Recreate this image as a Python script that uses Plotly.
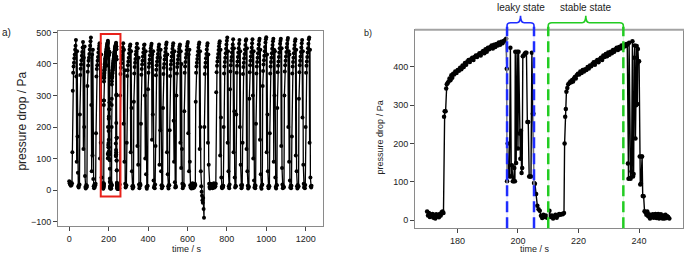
import plotly.graph_objects as go

# ---------------- data: panel a) full run (2 s samples, listed per cycle) ----------------
sample_step_s = 2
cycle_start_s = [0, 14, 52, 90, 134, 252, 290, 326, 362, 398, 436, 474, 508, 542, 582,
                 640, 682, 744, 782, 814, 846, 878, 912, 946, 980, 1016, 1054, 1090,
                 1128, 1164, 1198]
cycle_pa = [
    [28, 22, 18, 25, 14, 20, 16],
    [22, 120, 315, 372, 392, 404, 418, 430, 445, 458, 476, 360, 90, 440, 170, 55, 12, 8, 15],
    [18, 240, 365, 385, 398, 412, 426, 438, 452, 470, 130, 420, 200, 455, 45, 10, 5, 16, 9],
    [14, 330, 375, 395, 410, 420, 432, 446, 458, 472, 484, 270, 60, 430, 110, 445, 35, 12, 6, 18, 10, 15],
    [20, 180, 360, 384, 396, 410, 422, 436, 448, 458, 466, 100, 400, 150, 430, 40, 14, 8],
    [12, 6, 18, 300, 368, 388, 402, 416, 428, 440, 452, 466, 210, 445, 90, 380, 20, 8, 12],
    [15, 150, 362, 380, 396, 408, 420, 434, 446, 456, 462, 120, 440, 260, 60, 12, 5, 14],
    [10, 280, 370, 390, 404, 416, 430, 440, 452, 464, 140, 450, 80, 420, 18, 6, 12, 20],
    [16, 210, 366, 384, 398, 410, 424, 436, 448, 460, 462, 300, 100, 440, 50, 10, 4, 12],
    [14, 320, 372, 390, 402, 414, 428, 440, 450, 458, 464, 160, 430, 240, 440, 30, 8, 14, 6],
    [18, 140, 364, 382, 396, 408, 420, 432, 444, 454, 462, 80, 420, 190, 445, 60, 15, 6, 12],
    [12, 260, 368, 388, 400, 414, 426, 438, 450, 462, 468, 120, 430, 50, 12, 5, 16],
    [15, 190, 362, 384, 398, 410, 424, 436, 448, 458, 466, 220, 90, 440, 25, 8, 14],
    [10, 300, 370, 390, 402, 414, 426, 438, 448, 456, 462, 150, 440, 70, 400, 130, 20, 6, 12, 18],
    [14, 250, 372, 392, 406, 420, 432, 444, 456, 464, 470, 180, 430, 60, 445, 90, 15, 8, 12, 5,
     16, 10, 22, 6, 14, 18, 8, 12, 20],
    [16, 280, 372, 392, 404, 416, 428, 440, 452, 462, 468, 130, 440, 200, 60, 12, -5, -18, -32, -40, -25],
    [-60, -88, 200, 368, 390, 404, 418, 432, 446, 458, 466, 150, 430, 80, 20, 10, 5, 14, 20, 8,
     15, 12, 18, 6, 16, 10, 22, 14, 8, 18, 12],
    [20, 310, 374, 394, 408, 420, 432, 444, 456, 466, 472, 110, 445, 230, 40, 10, 6, 14, 9],
    [14, 200, 370, 392, 406, 420, 434, 448, 462, 474, 484, 150, 440, 60, 12, 6],
    [18, 320, 376, 396, 410, 422, 436, 450, 462, 478, 120, 450, 250, 40, 8, 14],
    [12, 240, 372, 394, 408, 422, 436, 450, 464, 476, 200, 440, 80, 15, 6, 10],
    [16, 150, 368, 390, 404, 418, 432, 446, 460, 474, 478, 130, 450, 60, 14, 5, 12],
    [10, 290, 374, 396, 410, 424, 438, 452, 466, 478, 300, 100, 440, 30, 8, 16, 6],
    [14, 210, 370, 392, 406, 420, 434, 448, 462, 474, 480, 160, 445, 50, 10, 4, 15],
    [18, 330, 378, 398, 412, 426, 440, 454, 468, 478, 485, 120, 430, 240, 60, 12, 6, 14],
    [12, 180, 370, 392, 406, 420, 434, 448, 460, 472, 480, 90, 445, 300, 440, 40, 10, 5, 16],
    [15, 260, 374, 394, 408, 422, 436, 450, 464, 474, 480, 140, 450, 70, 18, 6, 12, 8],
    [10, 300, 376, 396, 410, 424, 438, 452, 464, 476, 482, 200, 440, 90, 430, 30, 8, 14, 6],
    [14, 170, 370, 392, 406, 420, 434, 448, 460, 472, 478, 110, 445, 60, 12, 5, 16, 10],
    [12, 290, 374, 396, 410, 424, 438, 452, 466, 476, 230, 440, 80, 20, 8, 14, 6],
    [16, 200, 372, 394, 408, 422, 436, 450, 464, 478, 484, 150, 445, 40, 12, 8, 14],
]

# ---------------- data: panel b) detail 170-250 s (time s, pressure drop Pa) ----------------
detail_base1 = [(170.0, 22), (170.3, 12), (170.6, 18), (170.9, 8), (171.2, 14), (171.5, 10),
                (171.8, 16), (172.1, 6), (172.4, 12), (172.7, 4), (173.0, 15), (173.3, 9),
                (173.6, 13), (173.9, 7), (174.2, 16), (174.5, 12), (174.8, 20), (175.1, 22),
                (175.4, 18)]
detail_rise1 = [(175.6, 270), (175.8, 284), (176.1, 284), (176.3, 344), (176.5, 355), (176.8, 358),
                (177.1, 362), (177.4, 370), (177.7, 365), (178.0, 378), (178.3, 372), (178.6, 382),
                (178.9, 380), (179.3, 388), (179.7, 384), (180.1, 392), (180.5, 390), (180.9, 398),
                (181.3, 394), (181.7, 404), (182.1, 400), (182.5, 410), (182.9, 406), (183.3, 414),
                (183.7, 418), (184.1, 413), (184.5, 420), (184.9, 424), (185.3, 418), (185.7, 426),
                (186.1, 430), (186.5, 426), (186.9, 432), (187.3, 436), (187.7, 430), (188.1, 438),
                (188.5, 442), (188.9, 436), (189.3, 446), (189.7, 440), (190.1, 450), (190.5, 446),
                (190.9, 452), (191.3, 456), (191.7, 448), (192.1, 458), (192.5, 452), (192.9, 460),
                (193.3, 456), (193.7, 464), (194.1, 458), (194.5, 466), (194.9, 462), (195.3, 468),
                (195.7, 470), (196.1, 474)]
detail_leak1 = [(196.3, 395), (196.4, 101), (196.6, 200), (196.9, 117), (197.2, 114), (197.5, 450),
                (197.8, 114), (198.0, 143), (198.3, 101), (198.6, 101), (198.8, 136), (199.0, 101),
                (199.1, 440), (199.4, 149), (199.7, 440), (200.0, 187), (200.2, 440), (200.5, 226),
                (200.8, 160), (201.0, 233), (201.2, 123), (201.4, 136), (201.6, 428), (201.9, 430),
                (202.2, 434), (202.5, 437), (202.8, 437), (203.1, 256), (203.4, 256), (203.7, 114),
                (204.0, 114), (204.3, 114), (204.6, 437), (204.9, 278), (205.1, 278), (205.3, 97),
                (205.6, 95), (206.0, 68), (206.4, 37), (206.8, 28), (207.2, 24), (207.6, 11)]
detail_base2 = [(208.0, 5), (208.4, 14), (208.8, 8), (209.2, 12), (209.6, 6), (210.0, 10),
                (210.4, 24), (210.8, 8), (211.2, 12), (211.6, 4), (212.0, 10), (212.4, 14),
                (212.8, 6), (213.2, 12), (213.6, 16), (214.0, 14), (214.4, 16), (214.8, 15),
                (215.2, 18)]
detail_rise2 = [(215.4, 200), (215.6, 270), (215.8, 290), (216.0, 335), (216.3, 345), (216.6, 355),
                (217.0, 358), (217.3, 362), (217.6, 360), (217.9, 366), (218.2, 362), (218.5, 370),
                (218.8, 374), (219.1, 370), (219.4, 378), (219.8, 382), (220.2, 380), (220.6, 388),
                (221.0, 384), (221.4, 392), (221.8, 388), (222.2, 394), (222.6, 392), (223.0, 400),
                (223.4, 396), (223.8, 404), (224.2, 402), (224.6, 408), (225.0, 412), (225.4, 406),
                (225.8, 414), (226.2, 418), (226.6, 412), (227.0, 420), (227.4, 424), (227.8, 418),
                (228.2, 430), (228.6, 426), (229.0, 434), (229.4, 428), (229.8, 438), (230.2, 432),
                (230.6, 440), (231.0, 436), (231.4, 444), (231.8, 440), (232.2, 446), (232.6, 450),
                (233.0, 444), (233.4, 452), (233.8, 448), (234.2, 456), (234.6, 450), (235.0, 458),
                (235.4, 454), (235.8, 460), (236.1, 458)]
detail_leak2 = [(236.3, 148), (236.5, 108), (236.7, 463), (237.0, 110), (237.2, 108), (237.5, 127),
                (237.8, 467), (238.0, 114), (238.2, 120), (238.4, 424), (238.6, 456), (238.8, 213),
                (239.0, 300), (239.2, 455), (239.4, 303), (239.6, 447), (239.8, 414), (240.0, 415),
                (240.2, 166), (240.4, 93), (240.6, 95), (240.8, 166), (241.0, 166), (241.2, 63),
                (241.5, 62), (241.8, 23)]
detail_base3 = [(242.1, 20), (242.4, 14), (242.7, 22), (243.0, 10), (243.3, 15), (243.6, 4),
                (243.9, 12), (244.2, 8), (244.5, 15), (244.8, 6), (245.1, 14), (245.4, 16),
                (245.7, 5), (246.0, 12), (246.3, 16), (246.6, 4), (246.9, 8), (247.2, 15),
                (247.5, 5), (247.8, 4), (248.1, 12), (248.4, 4), (248.7, 14), (249.0, 5),
                (249.3, 10), (249.6, 8), (250.0, 4)]

zoom_window_s = [160, 260]
zoom_window_pa = [-20, 495]
leaky_state_s = [196.4, 205.3]
stable_state_s = [210.0, 234.8]

left_xticks = [0, 200, 400, 600, 800, 1000, 1200]
left_yticks = [-100, 0, 100, 200, 300, 400, 500]
right_xticks = [180, 200, 220, 240]
right_yticks = [0, 100, 200, 300, 400]

# ---------------- build series ----------------
detail = detail_base1 + detail_rise1 + detail_leak1 + detail_base2 + detail_rise2 + detail_leak2 + detail_base3
detail_t = [p[0] for p in detail]
detail_v = [p[1] for p in detail]

pts = list(detail)
for start, vals in zip(cycle_start_s, cycle_pa):
    for i, v in enumerate(vals):
        pts.append((start + i * sample_step_s, v))
pts.sort(key=lambda p: p[0])
left_t = [p[0] for p in pts]
left_v = [p[1] for p in pts]

W, H = 685, 255
def px(x):
    return x / W
def py(y):
    return (H - y) / H

FONT = "Liberation Sans, Arial, sans-serif"
TXT = "#222222"
FRAME = "#8a8a8a"
BLUE = "#1f2dff"
GREEN = "#22cc22"

fig = go.Figure()
fig.add_trace(go.Scatter(x=left_t, y=left_v, mode="lines+markers", xaxis="x", yaxis="y",
                         line=dict(color="black", width=1.3),
                         marker=dict(color="black", size=4), showlegend=False,
                         hoverinfo="skip"))
fig.add_trace(go.Scatter(x=detail_t, y=detail_v, mode="lines+markers", xaxis="x2", yaxis="y2",
                         line=dict(color="black", width=1.4),
                         marker=dict(color="black", size=4.5), showlegend=False,
                         hoverinfo="skip"))

axis_common = dict(showgrid=False, zeroline=False, showline=True, mirror=True,
                   linecolor=FRAME, linewidth=1, ticks="outside", ticklen=4,
                   tickcolor="#444444", tickfont=dict(family=FONT, size=9, color=TXT))

fig.update_layout(
    width=W, height=H, autosize=False,
    margin=dict(l=0, r=0, t=0, b=0),
    paper_bgcolor="white", plot_bgcolor="white",
    xaxis=dict(domain=[px(58), px(323)], range=[-57, 1288], tickvals=left_xticks,
               anchor="y", **axis_common),
    yaxis=dict(domain=[py(226), py(28)], range=[-115, 505.6], tickvals=left_yticks,
               anchor="x", **axis_common),
    xaxis2=dict(domain=[px(415), px(683)], range=[166, 254.5], tickvals=right_xticks,
                anchor="y2", **axis_common),
    yaxis2=dict(domain=[py(228), py(27)], range=[-21.7, 497.4], tickvals=right_yticks,
                anchor="x2", **axis_common),
)

# thicker grey top edge of panel b frame
fig.add_shape(type="line", xref="paper", yref="paper", x0=px(415), x1=px(684),
              y0=py(27), y1=py(27), line=dict(color="#a3a3a3", width=2))

# red zoom-window box on panel a
fig.add_shape(type="rect", xref="x", yref="y",
              x0=zoom_window_s[0], x1=zoom_window_s[1], y0=zoom_window_pa[0], y1=zoom_window_pa[1],
              line=dict(color="#e8211a", width=2), fillcolor="rgba(0,0,0,0)")

# state markers on panel b
def state_lines(bounds, color, faint):
    for xv in bounds:
        fig.add_shape(type="line", xref="x2", yref="paper", x0=xv, x1=xv,
                      y0=py(228), y1=py(22), line=dict(color=faint, width=1), layer="above")
        fig.add_shape(type="line", xref="x2", yref="paper", x0=xv, x1=xv,
                      y0=py(228), y1=py(24), line=dict(color=color, width=2.5, dash="11px,5px"),
                      layer="above")

def brace(bounds, color):
    a, b = bounds
    m = (a + b) / 2
    r = 1.2
    yl, yh, yt = py(27), py(20), py(13)
    ym = py(23)
    path = (f"M {a},{yl} L {a},{ym} Q {a},{yh} {a + r},{yh} L {m - r},{yh} "
            f"Q {m},{yh} {m},{yt} Q {m},{yh} {m + r},{yh} L {b - r},{yh} "
            f"Q {b},{yh} {b},{ym} L {b},{yl}")
    fig.add_shape(type="path", xref="x2", yref="paper", path=path,
                  line=dict(color=color, width=1.6))

state_lines(leaky_state_s, BLUE, "#dcdcff")
state_lines(stable_state_s, GREEN, "#dff5df")
brace(leaky_state_s, BLUE)
brace(stable_state_s, GREEN)

fig.add_annotation(x=sum(leaky_state_s) / 2, y=py(5), xref="x2", yref="paper",
                   text="leaky state", showarrow=False, xanchor="center", yanchor="middle",
                   font=dict(family=FONT, size=10, color=TXT))
fig.add_annotation(x=sum(stable_state_s) / 2, y=py(5), xref="x2", yref="paper",
                   text="stable state", showarrow=False, xanchor="center", yanchor="middle",
                   font=dict(family=FONT, size=10, color=TXT))

# panel labels and axis titles
def label(x, y, text, angle=0, xanchor="center", size=9):
    fig.add_annotation(x=px(x), y=py(y), xref="paper", yref="paper", text=text,
                       showarrow=False, xanchor=xanchor, yanchor="middle", textangle=angle,
                       font=dict(family=FONT, size=size, color=TXT))

label(0, 30, "a)", xanchor="left", size=10)
label(362, 30, "b)", xanchor="left")
label(187, 249, "time / s")
label(535, 249, "time / s")
label(22, 120, "pressure drop / Pa", angle=-90, size=12)
label(380, 136, "pressure drop / Pa", angle=-90)

fig.write_html("out.html", config={"displayModeBar": False},
               post_script="document.body.style.margin='0px';document.body.style.overflow='hidden';")
